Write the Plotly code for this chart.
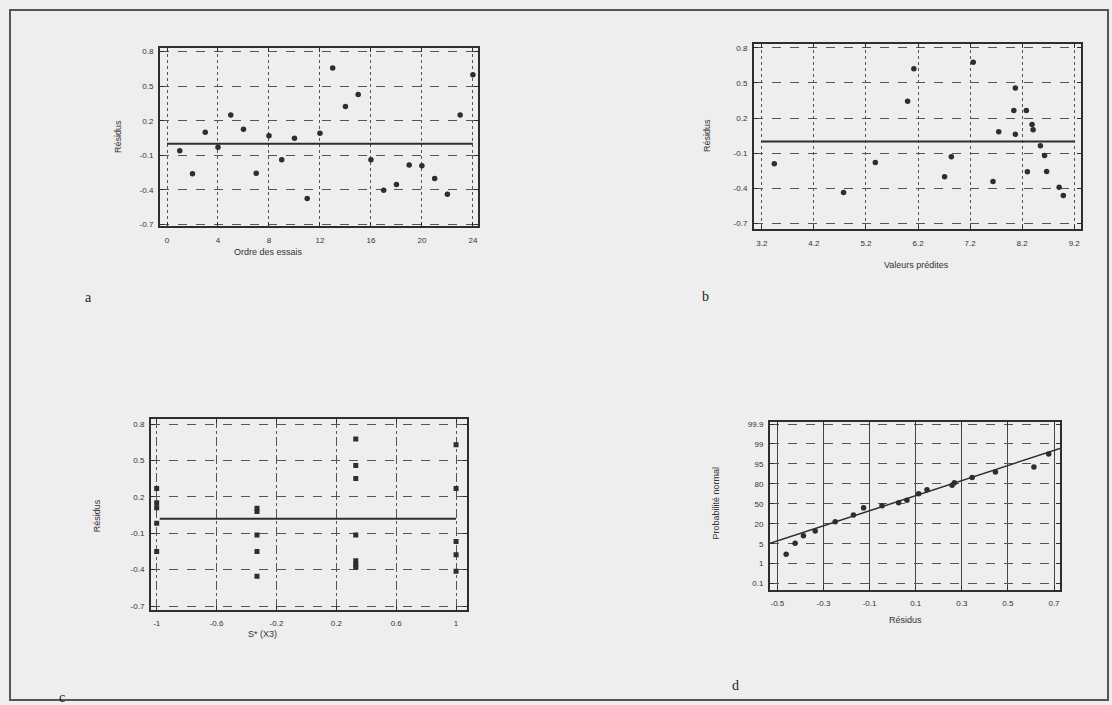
import plotly.graph_objects as go
import numpy as np

W, H = 1112, 705

# ---------- data ----------
# (a) residuals vs run order
order_a = list(range(1, 25))
res_a = [-0.06, -0.26, 0.10, -0.03, 0.25, 0.126, -0.255, 0.069, -0.138, 0.049, -0.476, 0.092,
         0.657, 0.324, 0.427, -0.138, -0.404, -0.353, -0.184, -0.19, -0.301, -0.439, 0.25, 0.60]

# (b) residuals vs predicted values
pred_b = [3.44, 4.77, 5.38, 6.00, 6.12, 6.71, 6.84, 7.26, 7.64, 7.75, 8.07, 8.04, 8.07,
          8.28, 8.30, 8.39, 8.41, 8.55, 8.63, 8.67, 8.91, 8.99]
res_b = [-0.19, -0.435, -0.178, 0.343, 0.62, -0.30, -0.13, 0.676, -0.34, 0.084, 0.456, 0.264, 0.061,
         0.264, -0.257, 0.146, 0.10, -0.037, -0.12, -0.255, -0.39, -0.46]

# (c) residuals vs factor level
lev_c = [-1, -1, -1, -1, -1,
         -0.33, -0.33, -0.33, -0.33, -0.33,
         0.33, 0.33, 0.33, 0.33, 0.33, 0.33, 0.33,
         1, 1, 1, 1, 1]
res_c = [0.268, 0.15, 0.11, -0.018, -0.25,
         0.105, 0.078, -0.114, -0.25, -0.454,
         0.677, 0.459, 0.35, -0.114, -0.326, -0.36, -0.38,
         0.628, 0.268, -0.168, -0.277, -0.414]

# (d) normal probability plot
res_d = [-0.462, -0.423, -0.387, -0.336, -0.249, -0.17, -0.126, -0.046, 0.026, 0.062,
         0.113, 0.149, 0.258, 0.268, 0.345, 0.446, 0.613, 0.677]
prob_d = [2.9, 5.3, 10.9, 14.6, 23.0, 33.2, 44.0, 47.0, 51.5, 55.4,
          65.3, 71.3, 77.9, 80.9, 84.7, 88.9, 92.6, 97.0]
line_d_x = [-0.532, 0.726]
line_d_p = [5.3, 98.1]
prob_ticks = [0.1, 1, 5, 20, 50, 80, 95, 99, 99.9]
prob_labels = ["0.1", "1", "5", "20", "50", "80", "95", "99", "99.9"]

res_ticks = [0.8, 0.5, 0.2, -0.1, -0.4, -0.7]

# ---------- helpers ----------
def prob_scale(p):
    return np.interp(p, prob_ticks, np.arange(len(prob_ticks)))

def dom_x(a, b):
    return [a / W, b / W]

def dom_y(top, bottom):
    return [1 - bottom / H, 1 - top / H]

INK = "#2e2e2e"
BG = "#eeeeee"
TICKFONT = dict(family="Liberation Sans", size=8, color="#333333")
TITLEFONT = dict(family="Liberation Sans", size=9, color="#333333")

fig = go.Figure()

panels = {
    "a": dict(x=dom_x(160, 478), y=dom_y(46, 226), xr=[-0.55, 24.4], yr=[-0.717, 0.834]),
    "b": dict(x=dom_x(754, 1081), y=dom_y(42, 229), xr=[3.05, 9.33], yr=[-0.749, 0.834]),
    "c": dict(x=dom_x(151, 467), y=dom_y(420, 612), xr=[-1.038, 1.073], yr=[-0.73, 0.841]),
    "d": dict(x=dom_x(770, 1060), y=dom_y(423, 592), xr=[-0.532, 0.726], yr=[-0.31, 8.1]),
}

mk = dict(size=5.5, color=INK, symbol="circle")

# a
fig.add_trace(go.Scatter(x=order_a, y=res_a, mode="markers", marker=mk, xaxis="x", yaxis="y", showlegend=False))
fig.add_trace(go.Scatter(x=[0, 24], y=[0, 0], mode="lines", line=dict(color=INK, width=2), xaxis="x", yaxis="y", showlegend=False))
# b
fig.add_trace(go.Scatter(x=pred_b, y=res_b, mode="markers", marker=mk, xaxis="x2", yaxis="y2", showlegend=False))
fig.add_trace(go.Scatter(x=[3.2, 9.2], y=[0, 0], mode="lines", line=dict(color=INK, width=2), xaxis="x2", yaxis="y2", showlegend=False))
# c
fig.add_trace(go.Scatter(x=lev_c, y=res_c, mode="markers", marker=dict(size=5, color=INK, symbol="square"), xaxis="x3", yaxis="y3", showlegend=False))
fig.add_trace(go.Scatter(x=[-0.98, 1.0], y=[0.02, 0.02], mode="lines", line=dict(color=INK, width=2), xaxis="x3", yaxis="y3", showlegend=False))
# d
fig.add_trace(go.Scatter(x=res_d, y=prob_scale(prob_d), mode="markers", marker=mk, xaxis="x4", yaxis="y4", showlegend=False))
fig.add_trace(go.Scatter(x=line_d_x, y=prob_scale(line_d_p), mode="lines", line=dict(color=INK, width=1.5), xaxis="x4", yaxis="y4", showlegend=False))

def xaxis(p, tickvals, ticktext, anchor, griddash="dot", gridcolor="#555555"):
    return dict(domain=p["x"], range=p["xr"], anchor=anchor, tickvals=tickvals, ticktext=ticktext,
                showgrid=True, gridcolor=gridcolor, griddash=griddash, gridwidth=1,
                showline=True, linecolor=INK, linewidth=2, mirror="ticks",
                ticks="inside", ticklen=4, tickcolor=INK, ticklabelstandoff=5,
                tickfont=TICKFONT, zeroline=False)

def yaxis(p, tickvals, ticktext, anchor, griddash="dash"):
    return dict(domain=p["y"], range=p["yr"], anchor=anchor, tickvals=tickvals, ticktext=ticktext,
                showgrid=True, gridcolor="#555555", griddash=griddash, gridwidth=1,
                showline=True, linecolor=INK, linewidth=2, mirror="ticks",
                ticks="inside", ticklen=4, tickcolor=INK, ticklabelstandoff=3,
                tickfont=TICKFONT, zeroline=False)

ax_a = [0, 4, 8, 12, 16, 20, 24]
ax_b = [3.2, 4.2, 5.2, 6.2, 7.2, 8.2, 9.2]
ax_c = [-1, -0.6, -0.2, 0.2, 0.6, 1]
ax_d = [-0.5, -0.3, -0.1, 0.1, 0.3, 0.5, 0.7]
rt = [f"{v:.1f}" for v in res_ticks]

fig.update_layout(
    width=W, height=H, margin=dict(l=0, r=0, t=0, b=0),
    paper_bgcolor=BG, plot_bgcolor=BG,
    xaxis=xaxis(panels["a"], ax_a, [str(v) for v in ax_a], "y"),
    yaxis=yaxis(panels["a"], res_ticks, rt, "x"),
    xaxis2=xaxis(panels["b"], ax_b, [f"{v:.1f}" for v in ax_b], "y2"),
    yaxis2=yaxis(panels["b"], res_ticks, rt, "x2"),
    xaxis3=xaxis(panels["c"], ax_c, ["-1", "-0.6", "-0.2", "0.2", "0.6", "1"], "y3", griddash="dashdot"),
    yaxis3=yaxis(panels["c"], res_ticks, rt, "x3"),
    xaxis4=xaxis(panels["d"], ax_d, [f"{v:.1f}" for v in ax_d], "y4", griddash="solid", gridcolor="#444444"),
    yaxis4=yaxis(panels["d"], list(range(len(prob_ticks))), prob_labels, "x4"),
)

# axis titles (placed to match the scanned figure)
titles = [
    ("Ordre des essais", 268, 252, 0),
    ("Résidus", 118, 136, -90),
    ("Valeurs prédites", 916, 265, 0),
    ("Résidus", 707, 135, -90),
    ("S* (X3)", 262, 637, 0),
    ("Résidus", 97, 518, -90),
    ("Résidus", 905, 622, 0),
    ("Probabilité normal", 716, 505, -90),
]
for txt, px, py, ang in titles:
    fig.add_annotation(text=txt, xref="paper", yref="paper", x=px / W, y=1 - py / H, showarrow=False,
                       textangle=ang, font=TITLEFONT, xanchor="center", yanchor="middle")

# outer frame of the scanned figure
fig.add_shape(type="rect", xref="paper", yref="paper", x0=10 / W, x1=1108 / W, y0=1 - 703 / H, y1=1 - 8 / H,
              line=dict(color="#555555", width=2))

for lab, px, py in [("a", 88, 298), ("b", 705, 297), ("c", 62, 700), ("d", 735, 688)]:
    fig.add_annotation(text=lab, xref="paper", yref="paper", x=px / W, y=1 - py / H, showarrow=False,
                       font=dict(family="Liberation Serif", size=14, color="#222222"),
                       xanchor="center", yanchor="middle")

fig.write_html("out.html")
